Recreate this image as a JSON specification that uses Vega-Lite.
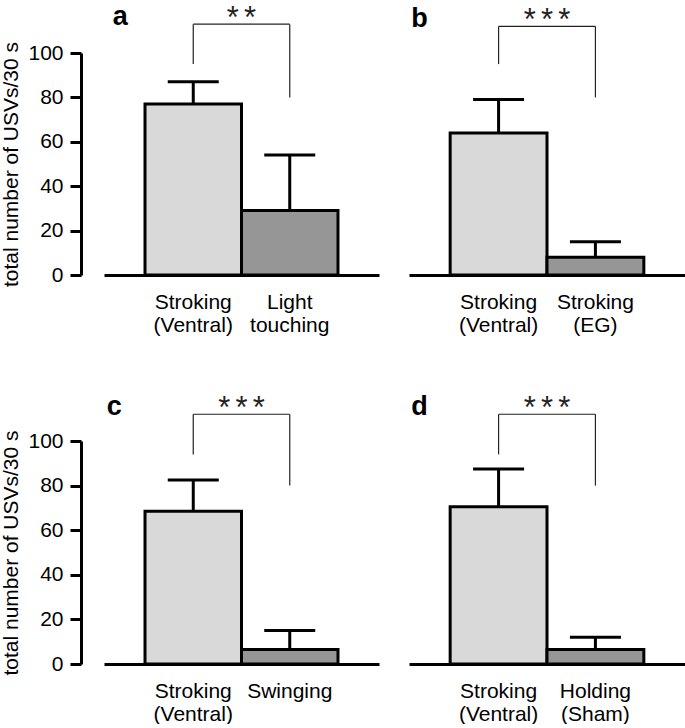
{
  "$schema": "https://vega.github.io/schema/vega-lite/v6.json",
  "background": "white",
  "padding": {"left": 0, "top": 3, "right": 0, "bottom": 0},
  "config": {
    "font": "Liberation Sans",
    "view": {"stroke": null},
    "axis": {"grid": false, "domainColor": "black", "domainWidth": 3, "labelColor": "black", "labelFont": "Liberation Sans", "labelFontSize": 21, "titleFont": "Liberation Sans", "titleFontSize": 21, "titleFontWeight": "normal", "titleColor": "black", "tickColor": "black"}
  },
  "datasets": {
    "bars": [
      {"panel": "a", "condition": "Stroking|(Ventral)", "kind": "ventral stroking", "mean": 77, "upper": 87},
      {"panel": "a", "condition": "Light|touching", "kind": "test", "mean": 29, "upper": 54},
      {"panel": "b", "condition": "Stroking|(Ventral)", "kind": "ventral stroking", "mean": 64, "upper": 79},
      {"panel": "b", "condition": "Stroking|(EG)", "kind": "test", "mean": 8, "upper": 15},
      {"panel": "c", "condition": "Stroking|(Ventral)", "kind": "ventral stroking", "mean": 68.5, "upper": 82.5},
      {"panel": "c", "condition": "Swinging", "kind": "test", "mean": 6.5, "upper": 15},
      {"panel": "d", "condition": "Stroking|(Ventral)", "kind": "ventral stroking", "mean": 70.5, "upper": 87.5},
      {"panel": "d", "condition": "Holding|(Sham)", "kind": "test", "mean": 6.5, "upper": 12}
    ],
    "brackets": [
      {"panel": "a", "letter": "a", "left": "Stroking|(Ventral)", "right": "Light|touching", "top": 113, "leftEnd": 95, "rightEnd": 80, "stars": "*\u2006*"},
      {"panel": "b", "letter": "b", "left": "Stroking|(Ventral)", "right": "Stroking|(EG)", "top": 112, "leftEnd": 95, "rightEnd": 80, "stars": "*\u2006*\u2006*"},
      {"panel": "c", "letter": "c", "left": "Stroking|(Ventral)", "right": "Swinging", "top": 112, "leftEnd": 94, "rightEnd": 80, "stars": "*\u2006*\u2006*"},
      {"panel": "d", "letter": "d", "left": "Stroking|(Ventral)", "right": "Holding|(Sham)", "top": 112, "leftEnd": 94, "rightEnd": 80, "stars": "*\u2006*\u2006*"}
    ]
  },
  "columns": 2,
  "align": "each",
  "spacing": {"row": 58, "column": 30},
  "resolve": {"scale": {"x": "independent", "y": "independent", "fill": "shared"}},
  "concat": [
    {
      "width": 275, "height": 222,
      "layer": [
        {"data": {"name": "bars"}, "transform": [{"filter": "datum.panel === 'a'"}],
         "mark": {"type": "bar", "stroke": "black", "strokeWidth": 3},
         "encoding": {
           "x": {"field": "condition", "type": "nominal", "scale": {"domain": ["Stroking|(Ventral)", "Light|touching"], "paddingInner": 0, "paddingOuter": 0.425},
                 "axis": {"title": null, "ticks": false, "labelAngle": 0, "labelPadding": 16, "labelExpr": "split(datum.label, '|')", "labelLineHeight": 23}},
           "y": {"field": "mean", "type": "quantitative", "scale": {"domain": [0, 100], "nice": false},
                 "axis": {"title": "total number of USVs/30 s", "values": [0, 10, 20, 30, 40, 50, 60, 70, 80, 90, 100], "labelExpr": "datum.value % 20 === 0 ? datum.label : ''", "tickSize": {"condition": {"test": "datum.value % 20 === 0", "value": 11}, "value": 5}, "tickWidth": 3, "offset": 23, "labelPadding": 7, "titlePadding": 6}},
           "fill": {"field": "kind", "type": "nominal", "scale": {"domain": ["ventral stroking", "test"], "range": ["#d9d9d9", "#969696"]}, "legend": null}
         }},
        {"data": {"name": "bars"}, "transform": [{"filter": "datum.panel === 'a'"}],
         "mark": {"type": "rule", "color": "black", "strokeWidth": 3},
         "encoding": {"x": {"field": "condition", "type": "nominal"}, "y": {"field": "mean", "type": "quantitative"}, "y2": {"field": "upper"}}},
        {"data": {"name": "bars"}, "transform": [{"filter": "datum.panel === 'a'"}],
         "mark": {"type": "tick", "color": "black", "size": 51, "thickness": 3, "opacity": 1},
         "encoding": {"x": {"field": "condition", "type": "nominal"}, "y": {"field": "upper", "type": "quantitative"}}},
        {"data": {"name": "brackets"}, "transform": [{"filter": "datum.panel === 'a'"}],
         "mark": {"type": "rule", "color": "#222222", "strokeWidth": 1.2},
         "encoding": {"x": {"field": "left", "type": "nominal"}, "x2": {"field": "right"}, "y": {"field": "top", "type": "quantitative"}}},
        {"data": {"name": "brackets"}, "transform": [{"filter": "datum.panel === 'a'"}],
         "mark": {"type": "rule", "color": "#222222", "strokeWidth": 1.2},
         "encoding": {"x": {"field": "left", "type": "nominal"}, "y": {"field": "top", "type": "quantitative"}, "y2": {"field": "leftEnd"}}},
        {"data": {"name": "brackets"}, "transform": [{"filter": "datum.panel === 'a'"}],
         "mark": {"type": "rule", "color": "#222222", "strokeWidth": 1.2},
         "encoding": {"x": {"field": "right", "type": "nominal"}, "y": {"field": "top", "type": "quantitative"}, "y2": {"field": "rightEnd"}}},
        {"data": {"name": "brackets"}, "transform": [{"filter": "datum.panel === 'a'"}],
         "mark": {"type": "text", "fontSize": 31, "baseline": "alphabetic", "align": "center", "dy": 4, "color": "#222222"},
         "encoding": {"x": {"field": "right", "type": "nominal", "bandPosition": 0}, "y": {"field": "top", "type": "quantitative"}, "text": {"field": "stars"}}},
        {"data": {"name": "brackets"}, "transform": [{"filter": "datum.panel === 'a'"}],
         "mark": {"type": "text", "fontSize": 27, "fontWeight": "bold", "baseline": "alphabetic", "align": "center", "dx": -73, "dy": 1, "color": "black"},
         "encoding": {"x": {"field": "left", "type": "nominal"}, "y": {"field": "top", "type": "quantitative"}, "text": {"field": "letter"}}}
      ]
    },
    {
      "width": 276, "height": 222,
      "layer": [
        {"data": {"name": "bars"}, "transform": [{"filter": "datum.panel === 'b'"}],
         "mark": {"type": "bar", "stroke": "black", "strokeWidth": 3},
         "encoding": {
           "x": {"field": "condition", "type": "nominal", "scale": {"domain": ["Stroking|(Ventral)", "Stroking|(EG)"], "paddingInner": 0, "paddingOuter": 0.425},
                 "axis": {"title": null, "ticks": false, "labelAngle": 0, "labelPadding": 16, "labelExpr": "split(datum.label, '|')", "labelLineHeight": 23}},
           "y": {"field": "mean", "type": "quantitative", "scale": {"domain": [0, 100], "nice": false}, "axis": null},
           "fill": {"field": "kind", "type": "nominal", "scale": {"domain": ["ventral stroking", "test"], "range": ["#d9d9d9", "#969696"]}, "legend": null}
         }},
        {"data": {"name": "bars"}, "transform": [{"filter": "datum.panel === 'b'"}],
         "mark": {"type": "rule", "color": "black", "strokeWidth": 3},
         "encoding": {"x": {"field": "condition", "type": "nominal"}, "y": {"field": "mean", "type": "quantitative", "axis": null}, "y2": {"field": "upper"}}},
        {"data": {"name": "bars"}, "transform": [{"filter": "datum.panel === 'b'"}],
         "mark": {"type": "tick", "color": "black", "size": 51, "thickness": 3, "opacity": 1},
         "encoding": {"x": {"field": "condition", "type": "nominal"}, "y": {"field": "upper", "type": "quantitative", "axis": null}}},
        {"data": {"name": "brackets"}, "transform": [{"filter": "datum.panel === 'b'"}],
         "mark": {"type": "rule", "color": "#222222", "strokeWidth": 1.2},
         "encoding": {"x": {"field": "left", "type": "nominal"}, "x2": {"field": "right"}, "y": {"field": "top", "type": "quantitative", "axis": null}}},
        {"data": {"name": "brackets"}, "transform": [{"filter": "datum.panel === 'b'"}],
         "mark": {"type": "rule", "color": "#222222", "strokeWidth": 1.2},
         "encoding": {"x": {"field": "left", "type": "nominal"}, "y": {"field": "top", "type": "quantitative", "axis": null}, "y2": {"field": "leftEnd"}}},
        {"data": {"name": "brackets"}, "transform": [{"filter": "datum.panel === 'b'"}],
         "mark": {"type": "rule", "color": "#222222", "strokeWidth": 1.2},
         "encoding": {"x": {"field": "right", "type": "nominal"}, "y": {"field": "top", "type": "quantitative", "axis": null}, "y2": {"field": "rightEnd"}}},
        {"data": {"name": "brackets"}, "transform": [{"filter": "datum.panel === 'b'"}],
         "mark": {"type": "text", "fontSize": 31, "baseline": "alphabetic", "align": "center", "dy": 4, "color": "#222222"},
         "encoding": {"x": {"field": "right", "type": "nominal", "bandPosition": 0}, "y": {"field": "top", "type": "quantitative", "axis": null}, "text": {"field": "stars"}}},
        {"data": {"name": "brackets"}, "transform": [{"filter": "datum.panel === 'b'"}],
         "mark": {"type": "text", "fontSize": 27, "fontWeight": "bold", "baseline": "alphabetic", "align": "center", "dx": -79, "dy": 1, "color": "black"},
         "encoding": {"x": {"field": "left", "type": "nominal"}, "y": {"field": "top", "type": "quantitative", "axis": null}, "text": {"field": "letter"}}}
      ]
    },
    {
      "width": 275, "height": 223,
      "layer": [
        {"data": {"name": "bars"}, "transform": [{"filter": "datum.panel === 'c'"}],
         "mark": {"type": "bar", "stroke": "black", "strokeWidth": 3},
         "encoding": {
           "x": {"field": "condition", "type": "nominal", "scale": {"domain": ["Stroking|(Ventral)", "Swinging"], "paddingInner": 0, "paddingOuter": 0.425},
                 "axis": {"title": null, "ticks": false, "labelAngle": 0, "labelPadding": 16, "labelExpr": "split(datum.label, '|')", "labelLineHeight": 23}},
           "y": {"field": "mean", "type": "quantitative", "scale": {"domain": [0, 100], "nice": false},
                 "axis": {"title": "total number of USVs/30 s", "values": [0, 10, 20, 30, 40, 50, 60, 70, 80, 90, 100], "labelExpr": "datum.value % 20 === 0 ? datum.label : ''", "tickSize": {"condition": {"test": "datum.value % 20 === 0", "value": 11}, "value": 5}, "tickWidth": 3, "offset": 23, "labelPadding": 7, "titlePadding": 6}},
           "fill": {"field": "kind", "type": "nominal", "scale": {"domain": ["ventral stroking", "test"], "range": ["#d9d9d9", "#969696"]}, "legend": null}
         }},
        {"data": {"name": "bars"}, "transform": [{"filter": "datum.panel === 'c'"}],
         "mark": {"type": "rule", "color": "black", "strokeWidth": 3},
         "encoding": {"x": {"field": "condition", "type": "nominal"}, "y": {"field": "mean", "type": "quantitative"}, "y2": {"field": "upper"}}},
        {"data": {"name": "bars"}, "transform": [{"filter": "datum.panel === 'c'"}],
         "mark": {"type": "tick", "color": "black", "size": 51, "thickness": 3, "opacity": 1},
         "encoding": {"x": {"field": "condition", "type": "nominal"}, "y": {"field": "upper", "type": "quantitative"}}},
        {"data": {"name": "brackets"}, "transform": [{"filter": "datum.panel === 'c'"}],
         "mark": {"type": "rule", "color": "#222222", "strokeWidth": 1.2},
         "encoding": {"x": {"field": "left", "type": "nominal"}, "x2": {"field": "right"}, "y": {"field": "top", "type": "quantitative"}}},
        {"data": {"name": "brackets"}, "transform": [{"filter": "datum.panel === 'c'"}],
         "mark": {"type": "rule", "color": "#222222", "strokeWidth": 1.2},
         "encoding": {"x": {"field": "left", "type": "nominal"}, "y": {"field": "top", "type": "quantitative"}, "y2": {"field": "leftEnd"}}},
        {"data": {"name": "brackets"}, "transform": [{"filter": "datum.panel === 'c'"}],
         "mark": {"type": "rule", "color": "#222222", "strokeWidth": 1.2},
         "encoding": {"x": {"field": "right", "type": "nominal"}, "y": {"field": "top", "type": "quantitative"}, "y2": {"field": "rightEnd"}}},
        {"data": {"name": "brackets"}, "transform": [{"filter": "datum.panel === 'c'"}],
         "mark": {"type": "text", "fontSize": 31, "baseline": "alphabetic", "align": "center", "dy": 4, "color": "#222222"},
         "encoding": {"x": {"field": "right", "type": "nominal", "bandPosition": 0}, "y": {"field": "top", "type": "quantitative"}, "text": {"field": "stars"}}},
        {"data": {"name": "brackets"}, "transform": [{"filter": "datum.panel === 'c'"}],
         "mark": {"type": "text", "fontSize": 27, "fontWeight": "bold", "baseline": "alphabetic", "align": "center", "dx": -79, "dy": 1, "color": "black"},
         "encoding": {"x": {"field": "left", "type": "nominal"}, "y": {"field": "top", "type": "quantitative"}, "text": {"field": "letter"}}}
      ]
    },
    {
      "width": 276, "height": 223,
      "layer": [
        {"data": {"name": "bars"}, "transform": [{"filter": "datum.panel === 'd'"}],
         "mark": {"type": "bar", "stroke": "black", "strokeWidth": 3},
         "encoding": {
           "x": {"field": "condition", "type": "nominal", "scale": {"domain": ["Stroking|(Ventral)", "Holding|(Sham)"], "paddingInner": 0, "paddingOuter": 0.425},
                 "axis": {"title": null, "ticks": false, "labelAngle": 0, "labelPadding": 16, "labelExpr": "split(datum.label, '|')", "labelLineHeight": 23}},
           "y": {"field": "mean", "type": "quantitative", "scale": {"domain": [0, 100], "nice": false}, "axis": null},
           "fill": {"field": "kind", "type": "nominal", "scale": {"domain": ["ventral stroking", "test"], "range": ["#d9d9d9", "#969696"]}, "legend": null}
         }},
        {"data": {"name": "bars"}, "transform": [{"filter": "datum.panel === 'd'"}],
         "mark": {"type": "rule", "color": "black", "strokeWidth": 3},
         "encoding": {"x": {"field": "condition", "type": "nominal"}, "y": {"field": "mean", "type": "quantitative", "axis": null}, "y2": {"field": "upper"}}},
        {"data": {"name": "bars"}, "transform": [{"filter": "datum.panel === 'd'"}],
         "mark": {"type": "tick", "color": "black", "size": 51, "thickness": 3, "opacity": 1},
         "encoding": {"x": {"field": "condition", "type": "nominal"}, "y": {"field": "upper", "type": "quantitative", "axis": null}}},
        {"data": {"name": "brackets"}, "transform": [{"filter": "datum.panel === 'd'"}],
         "mark": {"type": "rule", "color": "#222222", "strokeWidth": 1.2},
         "encoding": {"x": {"field": "left", "type": "nominal"}, "x2": {"field": "right"}, "y": {"field": "top", "type": "quantitative", "axis": null}}},
        {"data": {"name": "brackets"}, "transform": [{"filter": "datum.panel === 'd'"}],
         "mark": {"type": "rule", "color": "#222222", "strokeWidth": 1.2},
         "encoding": {"x": {"field": "left", "type": "nominal"}, "y": {"field": "top", "type": "quantitative", "axis": null}, "y2": {"field": "leftEnd"}}},
        {"data": {"name": "brackets"}, "transform": [{"filter": "datum.panel === 'd'"}],
         "mark": {"type": "rule", "color": "#222222", "strokeWidth": 1.2},
         "encoding": {"x": {"field": "right", "type": "nominal"}, "y": {"field": "top", "type": "quantitative", "axis": null}, "y2": {"field": "rightEnd"}}},
        {"data": {"name": "brackets"}, "transform": [{"filter": "datum.panel === 'd'"}],
         "mark": {"type": "text", "fontSize": 31, "baseline": "alphabetic", "align": "center", "dy": 4, "color": "#222222"},
         "encoding": {"x": {"field": "right", "type": "nominal", "bandPosition": 0}, "y": {"field": "top", "type": "quantitative", "axis": null}, "text": {"field": "stars"}}},
        {"data": {"name": "brackets"}, "transform": [{"filter": "datum.panel === 'd'"}],
         "mark": {"type": "text", "fontSize": 27, "fontWeight": "bold", "baseline": "alphabetic", "align": "center", "dx": -79, "dy": 1, "color": "black"},
         "encoding": {"x": {"field": "left", "type": "nominal"}, "y": {"field": "top", "type": "quantitative", "axis": null}, "text": {"field": "letter"}}}
      ]
    }
  ]
}
